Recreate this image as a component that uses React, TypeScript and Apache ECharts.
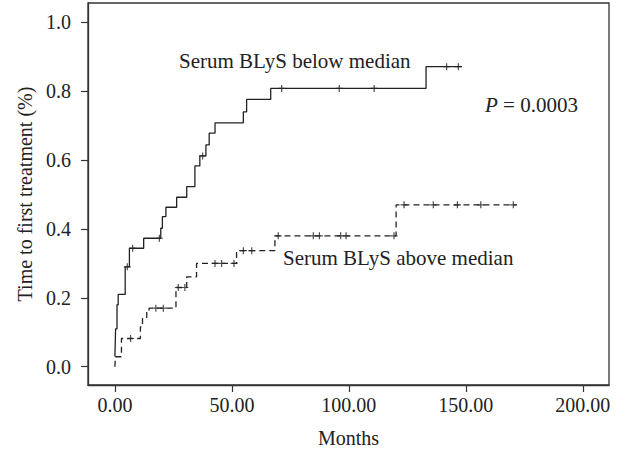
import React, { useEffect, useRef } from "react";
import * as echarts from "echarts";

// Kaplan–Meier step points [months, proportion]
const belowSteps: [number, number][] = [
  [0, 0.03], [0.3, 0.11], [0.9, 0.18], [1.4, 0.21], [4.4, 0.29], [6.2, 0.344],
  [12.3, 0.373], [19.6, 0.402], [20.3, 0.436], [21.8, 0.463], [26.4, 0.492],
  [30.7, 0.523], [34.2, 0.583], [36.3, 0.612], [38.9, 0.644], [40.3, 0.678],
  [42.8, 0.708], [54.9, 0.74], [56.3, 0.776], [66.6, 0.808], [133, 0.871], [148.3, 0.871],
];
const belowCensored: [number, number][] = [
  [5.3, 0.29], [7.6, 0.344], [19, 0.373], [37.5, 0.612], [71.3, 0.808],
  [95.9, 0.808], [110.8, 0.808], [141.8, 0.871], [146.8, 0.871],
];
const aboveSteps: [number, number][] = [
  [0, 0], [0.2, 0.029], [2.8, 0.082], [10.9, 0.116], [11.8, 0.14], [13.6, 0.16],
  [14.6, 0.17], [26.1, 0.23], [30.7, 0.261], [34.9, 0.3], [52, 0.337],
  [68.4, 0.38], [120.2, 0.47], [171.8, 0.47],
];
const aboveCensored: [number, number][] = [
  [6.7, 0.082], [17.5, 0.17], [20.7, 0.17], [27.1, 0.23], [29.9, 0.23],
  [42.8, 0.3], [45.6, 0.3], [50.9, 0.3], [54.9, 0.337], [58.5, 0.337],
  [69.8, 0.38], [84.8, 0.38], [87.4, 0.38], [96.5, 0.38], [98.8, 0.38],
  [119.3, 0.38], [123.6, 0.47], [136.1, 0.47], [146.4, 0.47], [156.4, 0.47], [170.3, 0.47],
];
const xTicks = [0, 50, 100, 150, 200];
const yTicks = [0, 0.2, 0.4, 0.6, 0.8, 1.0];
const belowLabel = "Serum BLyS below median";
const aboveLabel = "Serum BLyS above median";
const xName = "Months";
const yName = "Time to first treatment (%)";

const FONT = "Liberation Serif";
const INK = "#222";
const PLUS = "path://M0,5L10,5M5,0L5,10";

export default function App() {
  const ref = useRef<HTMLDivElement>(null);
  useEffect(() => {
    if (!ref.current) return;
    const chart = echarts.init(ref.current, undefined, { renderer: "svg" });
    const axisCommon = {
      axisLine: { show: true, onZero: false, lineStyle: { color: "#333", width: 1.3 } },
      axisTick: { show: true, length: 7, lineStyle: { color: "#333", width: 1.2 } },
      splitLine: { show: false },
      nameTextStyle: { fontFamily: FONT, fontSize: 20, color: INK },
    };
    chart.setOption({
      animation: false,
      backgroundColor: "#fff",
      grid: {
        left: 88, top: 3, right: 12, bottom: 67,
        containLabel: false, outerBoundsMode: "none",
        show: true, borderColor: "#333", borderWidth: 1.3,
      },
      xAxis: {
        type: "value",
        min: -11.5,
        max: 211.2,
        ...axisCommon,
        axisTick: { ...axisCommon.axisTick, customValues: xTicks },
        axisLabel: {
          customValues: xTicks,
          formatter: (v: number) => v.toFixed(2),
          fontFamily: FONT, fontSize: 20, color: INK, margin: 10,
        },
        name: xName,
        nameLocation: "middle",
        nameGap: 43,
      },
      yAxis: {
        type: "value",
        min: -0.053,
        max: 1.056,
        ...axisCommon,
        axisTick: { ...axisCommon.axisTick, customValues: yTicks },
        axisLabel: {
          customValues: yTicks,
          formatter: (v: number) => v.toFixed(1),
          fontFamily: FONT, fontSize: 20, color: INK, margin: 17,
        },
        name: yName,
        nameLocation: "middle",
        nameGap: 53,
      },
      series: [
        {
          type: "line", step: "end", data: belowSteps, symbol: "none",
          lineStyle: { color: INK, width: 1.3 },
        },
        {
          type: "line", step: "end", data: aboveSteps, symbol: "none",
          lineStyle: { color: INK, width: 1.3, type: [6, 4] },
        },
        {
          type: "scatter", data: belowCensored, symbol: PLUS, symbolSize: 7,
          itemStyle: { color: "none", borderColor: INK, borderWidth: 1.2 },
        },
        {
          type: "scatter", data: aboveCensored, symbol: PLUS, symbolSize: 7,
          itemStyle: { color: "none", borderColor: INK, borderWidth: 1.2 },
        },
      ],
      graphic: [
        {
          type: "text", x: 179, y: 61,
          style: { text: belowLabel, fontFamily: FONT, fontSize: 21, fill: INK, textVerticalAlign: "middle", verticalAlign: "middle" },
        },
        {
          type: "text", x: 283, y: 258,
          style: { text: aboveLabel, fontFamily: FONT, fontSize: 21, fill: INK, textVerticalAlign: "middle", verticalAlign: "middle" },
        },
        {
          type: "text", x: 485, y: 105,
          style: {
            text: "{i|P} = 0.0003",
            rich: { i: { fontStyle: "italic", fontFamily: FONT, fontSize: 21, fill: INK } },
            fontFamily: FONT, fontSize: 21, fill: INK, textVerticalAlign: "middle", verticalAlign: "middle",
          },
        },
      ],
    });
    return () => chart.dispose();
  }, []);
  return (
    <div style={{ position: "fixed", left: 0, top: 0 }}>
      <div ref={ref} style={{ width: 621, height: 452 }} />
    </div>
  );
}
